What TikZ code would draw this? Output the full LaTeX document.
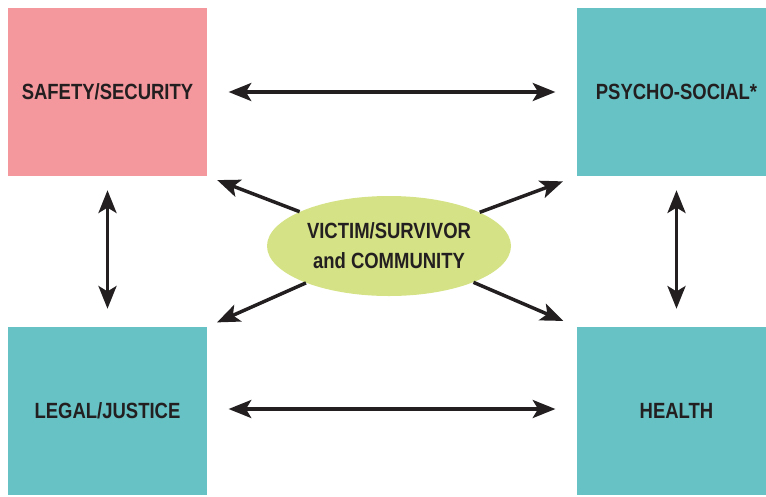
\documentclass[tikz,border=0pt]{standalone}
\usepackage{fontspec}
\setmainfont{Liberation Sans}[FakeStretch=0.84]
\usepackage{tikz}
\usetikzlibrary{arrows.meta}
\usetikzlibrary{shapes.geometric}
\definecolor{mpink}{RGB}{245, 152, 157}
\definecolor{mteal}{RGB}{102, 194, 196}
\definecolor{mgreen}{RGB}{213, 226, 134}
\definecolor{mink}{RGB}{35, 31, 32}
\tikzset{box/.style = {draw = none, inner sep = 0, minimum width = 149.25pt, minimum height = 126pt,
    font = \fontsize{16.5}{22.5}\selectfont\bfseries, text = mink}}
\tikzset{hub/.style = {ellipse, fill = mgreen, inner sep = 0, minimum width = 183pt, minimum height = 75pt,
    align = center, font = \fontsize{16.5}{22.5}\selectfont\bfseries, text = mink}}
\tikzset{link/.style = {mink, line width = 2.6pt, {Stealth[length = 17pt, width = 13.5pt, inset = 4pt]}-{Stealth[length = 17pt, width = 13.5pt, inset = 4pt]}}}

\begin{document}
\begin{tikzpicture}[x = 0.75pt, y = -0.75pt]
    \useasboundingbox (0, 0) rectangle (766, 496);
    \node [box, fill = mpink] (safety) at (107.5, 92) {SAFETY/SECURITY};
    \node [box, fill = mteal] (psycho) at (676.5, 92) {PSYCHO-SOCIAL*};
    \node [box, fill = mteal] (legal) at (107.5, 411) {LEGAL/JUSTICE};
    \node [box, fill = mteal] (health) at (676.5, 411) {HEALTH};

    \draw [link, shorten <= 16pt, shorten >= 16pt] (safety) -- (psycho);
    \draw [link, shorten <= 16pt, shorten >= 16pt] (legal.east |- 0, 409) -- (health.west |- 0, 409);
    \draw [link, shorten <= 10.5pt, shorten >= 13.5pt] (safety) -- (legal);
    \draw [link, shorten <= 10.5pt, shorten >= 13.5pt] (psycho) -- (health);

    \node [hub] (hub) at (389, 246) {VICTIM/SURVIVOR\\and COMMUNITY};

    \draw [link, -{Stealth[length = 17pt, width = 13.5pt, inset = 4pt]}, shorten >= 8pt] (hub) -- (safety.south east);
    \draw [link, -{Stealth[length = 17pt, width = 13.5pt, inset = 4pt]}, shorten >= 11pt] (hub) -- (psycho.south west);
    \draw [link, -{Stealth[length = 17pt, width = 13.5pt, inset = 4pt]}, shorten >= 8pt] (hub) -- (legal.north east);
    \draw [link, -{Stealth[length = 17pt, width = 13.5pt, inset = 4pt]}, shorten >= 11pt] (hub) -- (health.north west);
  \end{tikzpicture}
\end{document}
